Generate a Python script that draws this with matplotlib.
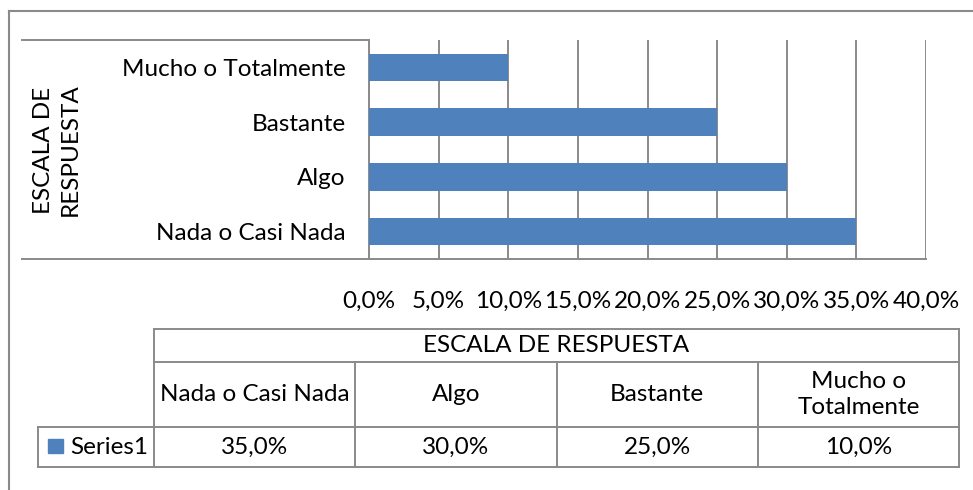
import matplotlib
matplotlib.use('Agg')
import matplotlib.pyplot as plt
from matplotlib.lines import Line2D
from matplotlib.patches import Rectangle

# data
categories = ['Nada o Casi Nada', 'Algo', 'Bastante', 'Mucho o Totalmente']
values = [0.35, 0.30, 0.25, 0.10]
xticks = [0.0, 0.05, 0.10, 0.15, 0.20, 0.25, 0.30, 0.35, 0.40]
axis_title = 'ESCALA DE\nRESPUESTA'
table_title = 'ESCALA DE RESPUESTA'
table_headers = ['Nada o Casi Nada', 'Algo', 'Bastante', 'Mucho o\nTotalmente']
series_name = 'Series1'

BLUE = '#4F81BD'
GRAY = '#8a8a8a'
FS = 17.5

plt.rcParams['font.family'] = ['Lato', 'DejaVu Sans']


def pct(v):
    return f'{v * 100:.1f}%'.replace('.', ',')


W, H = 973, 490
fig = plt.figure(figsize=(W / 100, H / 100), dpi=100)


def fx(x):
    return x / W


def fy(y):
    return 1 - y / H


# outer chart border (left and top only visible)
fig.add_artist(Line2D([fx(9), fx(9)], [fy(11), 0], color=GRAY, lw=1.5))
fig.add_artist(Line2D([fx(9), 1], [fy(11), fy(11)], color=GRAY, lw=1.5))

# bar chart
ax = fig.add_axes([fx(369), fy(259), fx(926) - fx(369), fy(40) - fy(259)])
ypos = list(range(len(categories)))
ax.barh(ypos, values, height=0.5, color=BLUE, zorder=3)
ax.set_xlim(0, 0.4)
ax.set_ylim(-0.5, len(categories) - 0.5)
ax.set_xticks(xticks, [pct(v) for v in xticks])
ax.set_yticks(ypos, categories)
ax.grid(axis='x', color=GRAY, lw=1.4, zorder=0)
for s in ['top', 'right', 'bottom']:
    ax.spines[s].set_visible(False)
ax.spines['left'].set_color(GRAY)
ax.spines['left'].set_linewidth(1.4)
ax.tick_params(axis='both', length=0, labelsize=FS)
ax.tick_params(axis='x', pad=23)
ax.tick_params(axis='y', pad=17)

# category box lines
fig.add_artist(Line2D([fx(22), fx(926)], [fy(259), fy(259)], color=GRAY, lw=1.4))
fig.add_artist(Line2D([fx(22), fx(369)], [fy(40), fy(40)], color=GRAY, lw=1.4))

fig.text(fx(57), fy(150), axis_title, rotation=90, ha='center', va='center',
         fontsize=FS, linespacing=1.3)

# data table
tax = fig.add_axes([fx(154), fy(467), fx(959) - fx(154), fy(329) - fy(467)])
tax.set_xlim(0, 4)
tax.set_ylim(0, 138)
tax.axis('off')
lk = dict(color=GRAY, lw=1.4, clip_on=False)
leg_left = -116 / 201.25
tax.plot([0, 4], [138, 138], **lk)
tax.plot([0, 4], [105, 105], **lk)
tax.plot([leg_left, 4], [40, 40], **lk)
tax.plot([leg_left, 4], [0, 0], **lk)
tax.plot([0, 0], [0, 138], **lk)
tax.plot([4, 4], [0, 138], **lk)
for i in range(1, 4):
    tax.plot([i, i], [0, 105], **lk)
tax.plot([leg_left, leg_left], [0, 40], **lk)

tax.text(2, 121.5, table_title, ha='center', va='center', fontsize=FS)
for i, (h, v) in enumerate(zip(table_headers, values)):
    tax.text(i + 0.5, 72.5, h, ha='center', va='center', fontsize=FS, linespacing=1.35)
    tax.text(i + 0.5, 20, pct(v), ha='center', va='center', fontsize=FS)

tax.add_patch(Rectangle((-106 / 201.25, 14), 15 / 201.25, 14, color=BLUE, clip_on=False))
tax.text(-84 / 201.25, 20, series_name, ha='left', va='center', fontsize=FS)

fig.savefig('out.png', dpi=100)
